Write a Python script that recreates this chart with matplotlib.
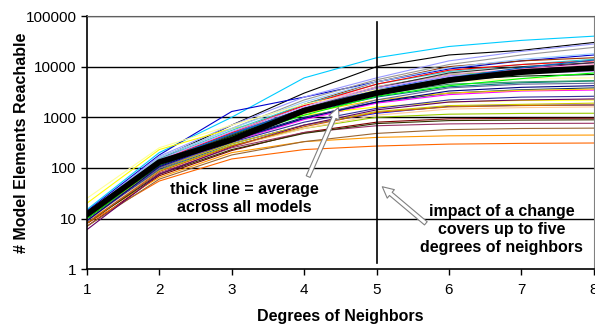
import matplotlib
matplotlib.use('Agg')
import matplotlib.pyplot as plt

plt.rcParams['font.family'] = ['Liberation Sans', 'DejaVu Sans']

# degrees of neighbors
degrees = [1, 2, 3, 4, 5, 6, 7, 8]

# elements reachable per model
model_reach = [
    [15, 200, 1000, 6000, 15000, 25000, 33000, 40000],
    [10, 150, 700, 3000, 10000, 17000, 21000, 30000],
    [14, 180, 1300, 2500, 5000, 9000, 13000, 17000],
    [13, 170, 700, 2500, 6000, 13000, 20000, 28000],
    [12, 140, 500, 1800, 5000, 10000, 13000, 15000],
    [11, 130, 450, 1500, 4000, 7000, 8500, 9500],
    [9, 110, 380, 1200, 3000, 6000, 9000, 12000],
    [12, 160, 600, 2200, 5500, 11000, 17000, 24000],
    [10, 120, 400, 1200, 2500, 4000, 4800, 5200],
    [9, 100, 330, 900, 1900, 2800, 3300, 3450],
    [20, 230, 600, 1100, 1600, 2000, 2150, 2200],
    [8, 90, 300, 700, 1200, 1650, 1720, 1750],
    [7, 70, 220, 500, 800, 930, 950, 960],
    [8, 55, 150, 230, 270, 295, 305, 310],
    [9, 65, 200, 330, 400, 430, 440, 445],
    [10, 90, 280, 600, 1000, 1150, 1190, 1200],
    [11, 120, 420, 1300, 2800, 4500, 5000, 5300],
    [12, 150, 500, 1700, 4000, 7000, 9000, 11000],
    [10, 110, 360, 1000, 2000, 3000, 3500, 3800],
    [13, 140, 450, 1200, 2200, 3000, 3400, 3600],
    [9, 95, 320, 800, 1500, 2200, 2500, 2600],
    [8, 80, 250, 500, 680, 740, 755, 760],
    [11, 130, 480, 1500, 3500, 6500, 8000, 9000],
    [12, 150, 550, 1800, 4500, 8000, 11000, 14000],
    [10, 125, 430, 1400, 3200, 5500, 6500, 7000],
    [7, 60, 180, 330, 480, 570, 600, 610],
    [11, 100, 300, 700, 1300, 1700, 1800, 1900],
    [9, 85, 260, 600, 1100, 1450, 1550, 1600],
    [10, 130, 450, 1500, 3800, 7500, 10000, 12000],
    [9, 100, 340, 950, 2200, 3800, 4500, 4700],
    [11, 140, 500, 1700, 4500, 8500, 11000, 13000],
    [13, 160, 600, 2000, 5000, 9500, 14000, 18000],
    [25, 250, 700, 1800, 3500, 5000, 5800, 6000],
    [8, 75, 230, 480, 750, 860, 880, 890],
    [9, 105, 350, 950, 2000, 3300, 3900, 4200],
    [12, 145, 520, 1600, 3800, 6500, 7500, 8000],
    [6, 75, 260, 700, 1400, 2000, 2200, 2300],
    [10, 115, 390, 1100, 2600, 4200, 5800, 7500],
    [8, 85, 270, 650, 1250, 1600, 1700, 1750],
    [11, 135, 470, 1400, 3300, 6000, 9500, 13500],
]

average_reach = [12, 130, 360, 1350, 3000, 5400, 7800, 9400]

line_colors = ['#00CCFF', '#000000', '#0000CC', '#9999FF', '#993300', '#00CC00',
               '#800080', '#969696', '#008080', '#FF00FF', '#FFFF00', '#0000FF',
               '#800000', '#FF6600', '#FF9900', '#99CC00', '#339966', '#FF99CC',
               '#003366', '#FFCC00', '#333399', '#993366', '#3366FF', '#33CCCC',
               '#003300', '#996633', '#CCCC00', '#FFCC99', '#333333', '#666699',
               '#FF0000', '#99CCFF', '#FFFF99', '#333300', '#000080', '#CC99FF',
               '#660066', '#00FF00', '#CC6600', '#0066CC']

y_ticks = [1, 10, 100, 1000, 10000, 100000]

fig = plt.figure(figsize=(5.95, 3.27), dpi=100)
ax = fig.add_axes([0.146, 0.177, 0.852, 0.774])

for vals, c in zip(model_reach, line_colors):
    ax.plot(degrees, vals, color=c, lw=0.8)
ax.plot(degrees, average_reach, color='black', lw=4.2, solid_capstyle='round')

ax.set_yscale('log')
ax.set_ylim(1, 100000)
ax.set_xlim(1, 8)
ax.set_yticks(y_ticks)
ax.set_yticklabels([str(v) for v in y_ticks])
ax.minorticks_off()
ax.set_xticks(degrees)
for v in y_ticks[1:]:
    ax.axhline(v, color='black', lw=1.0, zorder=0)
ax.axvline(5, ymin=0.025, ymax=0.975, color='black', lw=1.2)

ax.tick_params(direction='out', length=4, width=1, labelsize=11, colors='black')
ax.tick_params(axis='x', pad=6)
ax.spines['left'].set_linewidth(1.2)
ax.spines['bottom'].set_linewidth(1.2)
ax.spines['right'].set_color('#808080')
ax.spines['top'].set_color('#606060')

ax.set_xlabel('Degrees of Neighbors', fontsize=11.5, fontweight='bold')
ax.set_ylabel('# Model Elements Reachable', fontsize=11.5, fontweight='bold')
ax.xaxis.set_label_coords(0.5, -0.158)
ax.yaxis.set_label_coords(-0.115, 0.5)

arrow = dict(arrowstyle='simple,head_width=0.8,head_length=0.8,tail_width=0.3',
             fc='white', ec='#808080', lw=0.8)
ax.annotate('', xy=(4.49, 1750), xytext=(4.04, 60), arrowprops=arrow)
ax.annotate('', xy=(5.05, 46), xytext=(5.71, 7.4), arrowprops=arrow)

ax.text(3.18, 25, 'thick line = average\nacross all models', ha='center', va='center',
        fontsize=11.5, fontweight='bold', linespacing=1.2)
ax.text(6.73, 6.2, 'impact of a change\ncovers up to five\ndegrees of neighbors',
        ha='center', va='center', fontsize=11.5, fontweight='bold', linespacing=1.25)

fig.savefig('out.png', dpi=100)
